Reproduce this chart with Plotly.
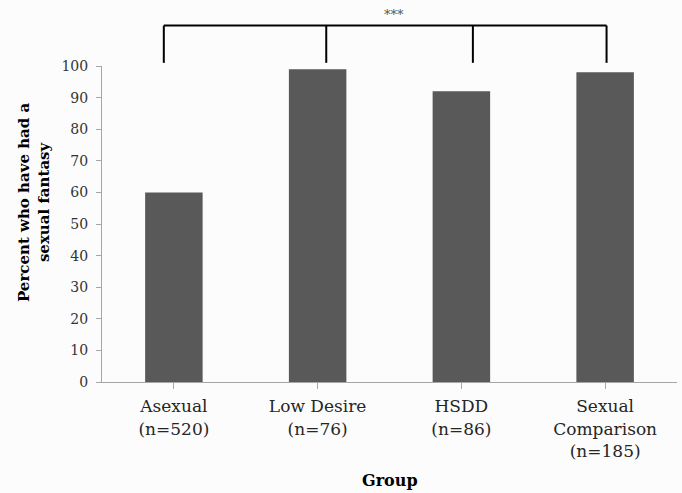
import plotly.graph_objects as go

groups = ["Asexual<br>(n=520)", "Low Desire<br>(n=76)", "HSDD<br>(n=86)", "Sexual<br>Comparison<br>(n=185)"]
values = [60, 99, 92, 98]
y_ticks = [0, 10, 20, 30, 40, 50, 60, 70, 80, 90, 100]

# significance bracket (x in category units, y in percent units)
bracket_x = [-0.07, 1.06, 2.08, 3.01]
bracket_top = 112.8
bracket_bottom = 101.0
sig_label = "***"

SERIF = "DejaVu Serif"

fig = go.Figure()
fig.add_trace(go.Bar(
    x=list(range(len(groups))), y=values,
    marker=dict(color="#595959", line=dict(width=0)),
    width=0.4,
))

shapes = []
shapes.append(dict(type="line", xref="x", yref="paper",
                   x0=bracket_x[0], x1=bracket_x[-1],
                   y0=bracket_top / 100, y1=bracket_top / 100,
                   line=dict(color="black", width=2)))
for bx in bracket_x:
    shapes.append(dict(type="line", xref="x", yref="paper",
                       x0=bx, x1=bx, y0=bracket_bottom / 100, y1=bracket_top / 100,
                       line=dict(color="black", width=2)))

annotations = [
    dict(text=sig_label, xref="x", yref="paper", x=(bracket_x[1] + bracket_x[2]) / 2 - 0.04,
         y=(bracket_top + 3.6) / 100, showarrow=False, xanchor="center", yanchor="middle",
         font=dict(family=SERIF, size=13, color="#555555")),
    dict(text="<b>Percent who have had a<br>sexual fantasy</b>", xref="paper", yref="paper",
         x=-0.118, y=0.57, textangle=-90, showarrow=False, xanchor="center", yanchor="middle",
         font=dict(family=SERIF, size=15, color="black")),
    dict(text="<b>Group</b>", xref="paper", yref="paper", x=0.5, y=-0.312,
         showarrow=False, xanchor="center", yanchor="middle",
         font=dict(family=SERIF, size=16, color="black")),
]

fig.update_layout(
    width=682, height=493,
    margin=dict(l=102, r=5, t=66, b=111),
    paper_bgcolor="#fcfcfc", plot_bgcolor="#fcfcfc",
    showlegend=False, bargap=0.6,
    shapes=shapes, annotations=annotations,
    xaxis=dict(
        range=[-0.5, 3.5], tickmode="array", tickvals=list(range(len(groups))), ticktext=groups,
        tickson="boundaries", ticks="outside", ticklen=6, tickcolor="#a6a6a6",
        showline=True, linecolor="#a6a6a6", linewidth=1, showgrid=False, zeroline=False,
        tickfont=dict(family=SERIF, size=17, color="#262626"),
        ticklabelstandoff=3,
    ),
    yaxis=dict(
        range=[0, 100], tickmode="array", tickvals=y_ticks,
        ticks="outside", ticklen=5, tickcolor="#a6a6a6",
        showline=True, linecolor="#a6a6a6", linewidth=1, showgrid=False, zeroline=False,
        tickfont=dict(family=SERIF, size=14, color="#333333"),
        ticklabelstandoff=5,
    ),
)

fig.write_html("out.html", config={"displayModeBar": False},
               post_script="document.body.style.margin='0';document.body.style.overflow='hidden';")
